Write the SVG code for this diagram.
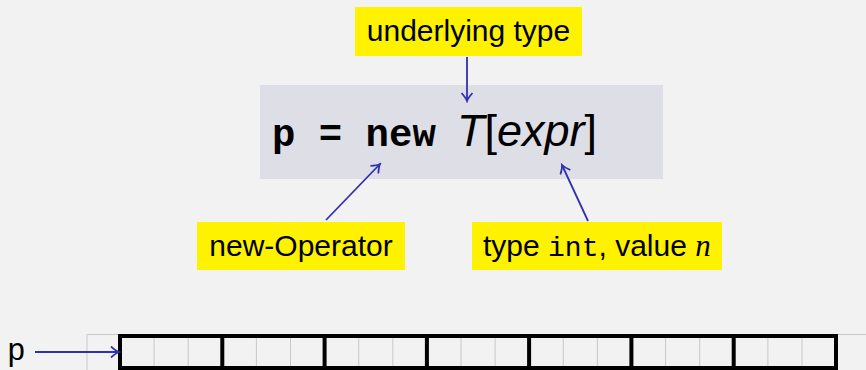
<svg xmlns="http://www.w3.org/2000/svg" width="866" height="370" viewBox="0 0 866 370">
  <style>
    .sans { font-family: "Liberation Sans", Arial, sans-serif; }
    .mono { font-family: "Liberation Mono", "Courier New", monospace; }
    .label { fill: #fff200; }
    .conn { stroke: #3030b0; stroke-width: 1.8; fill: none; }
    .cell { stroke: #c8c8c8; stroke-width: 1; fill: none; }
    .block { stroke: #000; stroke-width: 4; fill: none; }
  </style>
  <defs>
    <marker id="head" viewBox="-10 -6 12 12" markerWidth="12" markerHeight="12" refX="0" refY="0" orient="auto" markerUnits="userSpaceOnUse">
      <path d="M-8,-5.5 Q-3,-1 0,0 Q-3,1 -8,5.5" fill="none" stroke="#3030b0" stroke-width="1.8"/>
    </marker>
  </defs>

  <rect x="0" y="0" width="866" height="370" fill="#f2f2f2"/>

  <!-- expression -->
  <g id="expression">
    <rect x="260" y="85" width="403" height="94" fill="#dedee6"/>
    <text x="272" y="146" class="mono" font-weight="bold" font-size="39" fill="#000">p = new</text>
    <text x="457" y="146" class="sans" font-size="45" fill="#000"><tspan font-style="italic">T</tspan>[<tspan font-style="italic">expr</tspan>]</text>
  </g>

  <!-- labels -->
  <g id="underlying-type">
    <rect x="355" y="7" width="227" height="49" class="label"/>
    <text x="468.5" y="41" class="sans" font-size="30" text-anchor="middle" fill="#000">underlying type</text>
  </g>
  <g id="new-operator">
    <rect x="197" y="222" width="208" height="48" class="label"/>
    <text x="301" y="256" class="sans" font-size="30" text-anchor="middle" fill="#000">new-Operator</text>
  </g>
  <g id="size-expr">
    <rect x="472" y="222" width="250" height="48" class="label"/>
    <text x="483" y="256" class="sans" font-size="30" fill="#000">type <tspan class="mono" font-size="28">int</tspan>, value <tspan font-family="'Liberation Serif', 'Times New Roman', serif" font-style="italic" font-size="31">n</tspan></text>
  </g>

  <!-- array of memory cells -->
  <g id="array">
    <line x1="87" y1="334.5" x2="866" y2="334.5" class="cell"/>
    <line x1="87" y1="334" x2="87" y2="370" class="cell"/>
    <path class="cell" d="M154.1,334V370M188.2,334V370M256.4,334V370M290.5,334V370M358.7,334V370M392.8,334V370M461,334V370M495.1,334V370M563.3,334V370M597.4,334V370M665.6,334V370M699.7,334V370M767.9,334V370M802,334V370"/>
    <rect x="120" y="336" width="716" height="32" class="block"/>
    <path class="block" d="M222.3,336V368M324.6,336V368M426.9,336V368M529.1,336V368M631.4,336V368M733.7,336V368"/>
  </g>
  <g id="pointer">
    <text x="7" y="360" class="mono" font-size="31" fill="#000">p</text>
  </g>

  <!-- connectors -->
  <g id="connectors">
    <line x1="467" y1="57" x2="467" y2="101" class="conn" marker-end="url(#head)"/>
    <line x1="326" y1="220" x2="380" y2="164" class="conn" marker-end="url(#head)"/>
    <line x1="588" y1="221" x2="562" y2="165" class="conn" marker-end="url(#head)"/>
    <line x1="35" y1="352" x2="119" y2="352" class="conn" marker-end="url(#head)"/>
  </g>
</svg>
